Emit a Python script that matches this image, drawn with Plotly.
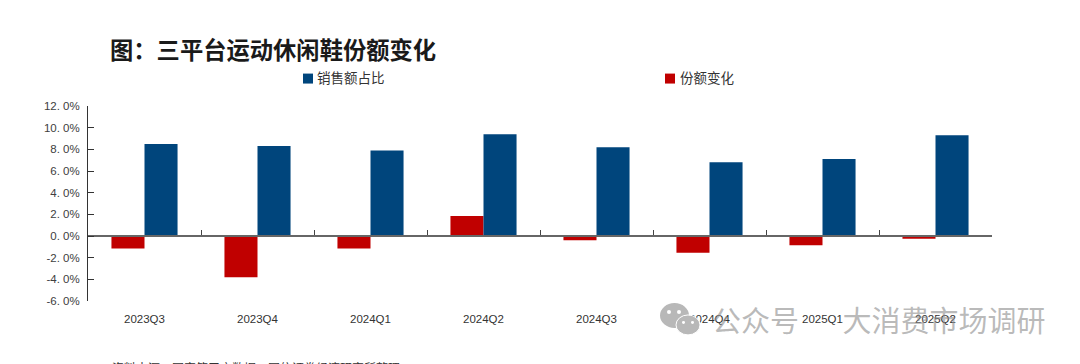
import plotly.graph_objects as go

categories = ["2023Q3", "2023Q4", "2024Q1", "2024Q2", "2024Q3", "2024Q4", "2025Q1", "2025Q2"]
share = [8.5, 8.3, 7.9, 9.4, 8.2, 6.8, 7.1, 9.3]
change = [-1.15, -3.8, -1.15, 1.85, -0.4, -1.55, -0.85, -0.25]
y_ticks = [12, 10, 8, 6, 4, 2, 0, -2, -4, -6]
y_labels = ["12. 0%", "10. 0%", "8. 0%", "6. 0%", "4. 0%", "2. 0%", "0. 0%", "-2. 0%", "-4. 0%", "-6. 0%"]
title_text = "图：三平台运动休闲鞋份额变化"
source_text = "资料来源：国家第三方数据，国信证券经济研究所整理"
watermark_text = "公众号\u3000\u2002大消费市场调研"
share_name = "销售额占比"
change_name = "份额变化"

BLUE = "#00457C"
RED = "#C00000"
WM = "rgba(140,140,140,0.6)"
CJK = "Noto Sans CJK SC"
LATIN = "Liberation Sans"

W, H = 1080, 364
L, R, T, B = 88, 992, 105.5, 301

def px(x):
    return (x - L) / (R - L)

def py(y):
    return (B - y) / (B - T)

def circle(x0, y0, x1, y1, color, line=None):
    return dict(type="circle", xref="paper", yref="paper", x0=px(x0), x1=px(x1), y0=py(y1), y1=py(y0),
                fillcolor=color, line=line or dict(width=0), layer="above")

def swatch(x0, y0, x1, y1, color):
    return dict(type="rect", xref="paper", yref="paper", x0=px(x0), x1=px(x1), y0=py(y1), y1=py(y0),
                fillcolor=color, line=dict(width=0), layer="above")

def label(text, x, y, size, color, anchor="middle", **font):
    return dict(text=text, x=px(x), y=py(y), xref="paper", yref="paper", xanchor="left", yanchor=anchor,
                showarrow=False, font=dict(family=CJK, size=size, color=color, **font))

shapes = [
    swatch(303, 73, 313, 83, BLUE),
    swatch(665, 73, 675, 83, RED),
    circle(660, 303, 689, 328, "#B8B8B8"),
    circle(676, 315, 700, 335, "#B8B8B8", dict(color="white", width=1)),
    circle(667, 310, 671, 314, "white"),
    circle(677, 310, 681, 314, "white"),
    circle(682, 321, 685, 324, "white"),
    circle(691, 321, 694, 324, "white"),
]

annotations = [
    label(title_text, 108, 48, 23.3, "#1a1a1a", weight="bold"),
    label(share_name, 315, 76, 13.5, "#333333"),
    label(change_name, 678, 76, 13.5, "#333333"),
    label(source_text, 110, 357, 12, "#333333", anchor="top"),
    label(watermark_text, 710, 319, 29, WM),
]

fig = go.Figure()
fig.add_bar(name=change_name, x=categories, y=change, marker=dict(color=RED, line_width=0))
fig.add_bar(name=share_name, x=categories, y=share, marker=dict(color=BLUE, line_width=0))

fig.update_layout(
    width=W, height=H, autosize=False,
    margin=dict(l=L, r=W - R, t=T, b=H - B, pad=0),
    paper_bgcolor="white", plot_bgcolor="white",
    barmode="group", bargap=0.415, bargroupgap=0,
    showlegend=False,
    font=dict(family=LATIN, size=12, color="#404040"),
    shapes=shapes, annotations=annotations,
    xaxis=dict(type="category", categoryorder="array", categoryarray=categories,
               anchor="free", position=1 / 3, tickson="boundaries",
               showline=True, linecolor="#666666", linewidth=1.5, ticks="inside", ticklen=5,
               tickcolor="#444444", tickwidth=1, showgrid=False, zeroline=False,
               ticklabelstandoff=72, tickfont=dict(family=LATIN, size=11.5, color="#333333")),
    yaxis=dict(range=[-6, 12], tickmode="array", tickvals=y_ticks, ticktext=y_labels,
               showline=True, linecolor="#333333", linewidth=1, ticks="inside", ticklen=6,
               tickcolor="#333333", showgrid=False, zeroline=False, ticklabelstandoff=5,
               tickfont=dict(family=LATIN, size=11.5, color="#404040")),
)

fig.write_html("out.html", config=dict(displayModeBar=False),
               post_script="document.body.style.margin='0';document.body.style.overflow='hidden';")
